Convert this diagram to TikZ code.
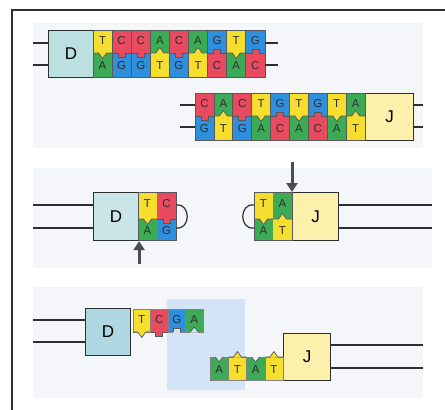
\documentclass[tikz,border=0pt]{standalone}
\usepackage{fontspec}
\setmainfont{Liberation Sans}
\usetikzlibrary{arrows.meta,positioning}
\definecolor{baseA}{HTML}{3DAA55}
\definecolor{baseT}{HTML}{F6DE2E}
\definecolor{baseC}{HTML}{E84A5F}
\definecolor{baseG}{HTML}{2E8FDD}
\definecolor{dfill}{HTML}{BCDFE2}
\definecolor{dopen}{HTML}{B0D8E2}
\definecolor{jfill}{HTML}{FBF0AC}
\definecolor{panel}{HTML}{F4F6FA}
\definecolor{gap}{HTML}{D2E4F5}
\definecolor{ink}{HTML}{2E2E2E}
\colorlet{notchbg}{panel}
\def\hw{9.5}

\tikzset{
  seg/.style={ink!80, line width=0.7},
  strand/.style={ink, line width=1.2},
  gene/.style={draw=ink, line width=1.1, minimum width=45, minimum height=47,
    inner sep=0, anchor=north west, font=\fontsize{17}{17}\selectfont},
  letter/.style={ink, inner sep=0, font=\fontsize{11.5}{12}\selectfont},
  cut/.style={-{Triangle[length=9,width=11]}, line width=3, ink!85},
  % tabs stick out of T and C, notches cut into A and G
  tab T/.pic={\fill[baseT] (-4,-0.6) -- (0,5.5) -- (4,-0.6) -- cycle;
    \draw[seg] (-\hw,0) -- (-4,0) -- (0,5.5) -- (4,0) -- (\hw,0);},
  tab C/.pic={\fill[baseC] (-3.5,-0.6) rectangle (3.5,4);
    \draw[seg] (-\hw,0) -- (-3.5,0) -- (-3.5,4) -- (3.5,4) -- (3.5,0) -- (\hw,0);},
  tab A/.pic={},
  tab G/.pic={},
  notch A/.pic={\fill[notchbg] (-4,0.6) -- (0,-5) -- (4,0.6) -- cycle;
    \draw[seg] (-4,0) -- (0,-5) -- (4,0);},
  notch G/.pic={\fill[notchbg] (-3.5,0.6) rectangle (3.5,-4);
    \draw[seg] (-3.5,0) -- (-3.5,-4) -- (3.5,-4) -- (3.5,0);},
  notch T/.pic={},
  notch C/.pic={},
}

\begin{document}
\begin{tikzpicture}[x=1pt,y=-1pt]
  \useasboundingbox (0,0) rectangle (445,410);
  \draw[ink, line width=2.5] (12,410) -- (12,10) -- (445,10);

  % three panels
  \fill[panel] (33,23) rectangle (423,148);
  \fill[panel] (33,168) rectangle (432,268);
  \fill[panel] (33,287) rectangle (423,398);

  % --- panel 1: D side, double strand
  \node[gene, fill=dfill] (d1) at (48,30) {D};
  \foreach \t/\b [count=\i from 0] in {T/A,C/G,C/G,A/T,C/G,A/T,G/C,T/A,G/C} {
    \pgfmathsetmacro\x{93+\i*19.1}
    \fill[base\t] (\x,30) rectangle ++(19.1,23);
    \fill[base\b] (\x,53) rectangle ++(19.1,24);
    \draw[seg] (\x,30) -- (\x,77);
    \pic at (\x+9.55,53) {tab \t};
    \pic[yscale=-1] at (\x+9.55,53) {tab \b};
    \node[letter] (dt\i) at (\x+9.55,41) {\t};
    \node[letter] (db\i) at (\x+9.55,66) {\b};
  }
  \draw[seg] (93,30) rectangle (265,77);
  \coordinate (p1a) at (33,43);
  \coordinate (p1b) at (33,65);
  \draw[strand] (p1a) -- (p1a -| d1.west);
  \draw[strand] (p1b) -- (p1b -| d1.west);
  \draw[strand] (265,43) -- ++(13,0);
  \draw[strand] (265,65) -- ++(13,0);

  % --- panel 1: J side, double strand
  \node[gene, fill=jfill, minimum width=48] (j1) at (365,93) {J};
  \foreach \t/\b [count=\i from 0] in {C/G,A/T,C/G,T/A,G/C,T/A,G/C,T/A,A/T} {
    \pgfmathsetmacro\x{195+\i*18.9}
    \fill[base\t] (\x,93) rectangle ++(18.9,23);
    \fill[base\b] (\x,116) rectangle ++(18.9,24);
    \draw[seg] (\x,93) -- (\x,140);
    \pic at (\x+9.45,116) {tab \t};
    \pic[yscale=-1] at (\x+9.45,116) {tab \b};
    \node[letter] (jt\i) at (\x+9.45,104) {\t};
    \node[letter] (jb\i) at (\x+9.45,129) {\b};
  }
  \draw[seg] (195,93) rectangle (365,140);
  \coordinate (p1c) at (423,105);
  \coordinate (p1d) at (423,127);
  \draw[strand] (j1.east |- p1c) -- (p1c);
  \draw[strand] (j1.east |- p1d) -- (p1d);
  \draw[strand] (180,105) -- (195,105);
  \draw[strand] (180,127) -- (195,127);

  % --- panel 2: hairpins after cutting
  \node[gene, fill=dfill!80, minimum height=48] (d2) at (93,192) {D};
  \node[gene, fill=jfill, minimum width=46, minimum height=48] (j2) at (292,192) {J};
  \foreach \t/\b [count=\i from 0] in {T/A,C/G} {
    \pgfmathsetmacro\x{138+\i*19}
    \fill[base\t] (\x,192) rectangle ++(19,27);
    \fill[base\b] (\x,219) rectangle ++(19,21);
    \pic at (\x+9.5,219) {tab \t};
    \pic[yscale=-1] at (\x+9.5,219) {tab \b};
    \node[letter] (ht\i) at (\x+9.5,204) {\t};
    \node[letter] (hb\i) at (\x+9.5,231) {\b};
  }
  \draw[seg] (138,192) rectangle (176,240);
  \foreach \t/\b [count=\i from 0] in {T/A,A/T} {
    \pgfmathsetmacro\x{254+\i*19}
    \fill[base\t] (\x,192) rectangle ++(19,27);
    \fill[base\b] (\x,219) rectangle ++(19,21);
    \pic at (\x+9.5,219) {tab \t};
    \pic[yscale=-1] at (\x+9.5,219) {tab \b};
    \node[letter] (kt\i) at (\x+9.5,204) {\t};
    \node[letter] (kb\i) at (\x+9.5,231) {\b};
  }
  \draw[seg] (254,192) rectangle (292,240);
  \draw[strand] (176,205) .. controls (191,203) and (191,230) .. (176,228);
  \draw[strand] (254,205) .. controls (239,203) and (239,230) .. (254,228);
  \coordinate (p2a) at (33,205);
  \coordinate (p2b) at (33,228);
  \coordinate (p2c) at (432,205);
  \coordinate (p2d) at (432,228);
  \draw[strand] (p2a) -- (p2a -| d2.west);
  \draw[strand] (p2b) -- (p2b -| d2.west);
  \draw[strand] (j2.east |- p2c) -- (p2c);
  \draw[strand] (j2.east |- p2d) -- (p2d);
  % cut sites
  \coordinate (cutD) at (138,264);
  \coordinate (cutJ) at (292,162);
  \draw[cut] (cutD -| d2.south east) -- (d2.south east);
  \draw[cut] (cutJ -| j2.north west) -- (j2.north west);

  % --- panel 3: opened ends
  \fill[gap] (167,299) rectangle (245,390);
  \node[gene, fill=dopen, minimum height=47] (d3) at (85,308) {D};
  \node[gene, fill=jfill, minimum width=47] (j3) at (283,333) {J};
  \foreach \t/\bg [count=\i from 0] in {T/panel,C/panel,G/gap,A/gap} {
    \pgfmathsetmacro\x{133+\i*17.5}
    \def\hw{8.75}
    \colorlet{notchbg}{\bg}
    \filldraw[base\t, draw=ink!60, line width=0.4] (\x,309) rectangle ++(17.5,23);
    \pic at (\x+8.75,332) {tab \t};
    \pic at (\x+8.75,332) {notch \t};
    \node[letter] (st\i) at (\x+8.75,320) {\t};
  }
  \foreach \b/\bg [count=\i from 0] in {A/gap,T/gap,A/panel,T/panel} {
    \pgfmathsetmacro\x{210+\i*18.25}
    \def\hw{9.1}
    \colorlet{notchbg}{\bg}
    \filldraw[base\b, draw=ink!60, line width=0.4] (\x,357) rectangle ++(18.25,23);
    \pic[yscale=-1] at (\x+9.125,357) {tab \b};
    \pic[yscale=-1] at (\x+9.125,357) {notch \b};
    \node[letter] (sb\i) at (\x+9.125,370) {\b};
  }
  \coordinate (p3a) at (33,320);
  \coordinate (p3b) at (33,342);
  \coordinate (p3c) at (423,345);
  \coordinate (p3d) at (423,368);
  \draw[strand] (p3a) -- (p3a -| d3.west);
  \draw[strand] (p3b) -- (p3b -| d3.west);
  \draw[strand] (j3.east |- p3c) -- (p3c);
  \draw[strand] (j3.east |- p3d) -- (p3d);
\end{tikzpicture}
\end{document}
